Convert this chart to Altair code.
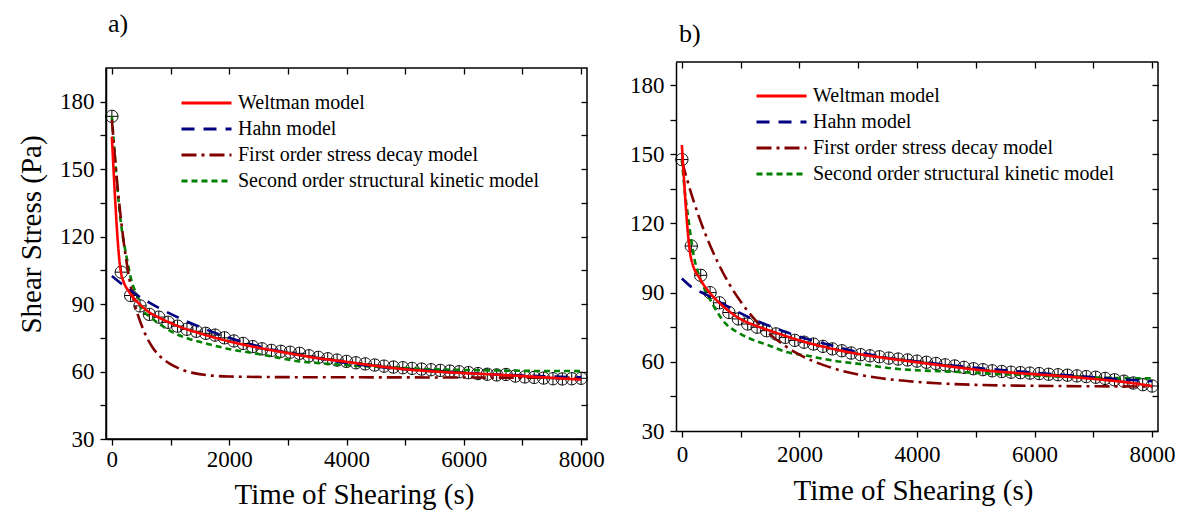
import altair as alt
import pandas as pd

FONT = "Liberation Serif"
MODELS = ["Weltman model", "Hahn model", "First order stress decay model",
          "Second order structural kinetic model"]
COLORS = ["#ff0000", "#000080", "#800000", "#008000"]
DASHES = [[1, 0], [13, 9], [15, 5, 3, 5], [6, 4]]

# experimental points (same time grid in both panels)
T_EXP = [0, 160, 320, 480, 640, 800, 960, 1120, 1280, 1440, 1600, 1760, 1920, 2080,
         2240, 2400, 2560, 2720, 2880, 3040, 3200, 3360, 3520, 3680, 3840, 4000, 4160,
         4320, 4480, 4640, 4800, 4960, 5120, 5280, 5440, 5600, 5760, 5920, 6080, 6240,
         6400, 6560, 6720, 6880, 7040, 7200, 7360, 7520, 7680, 7840, 8000]
A_EXP = [173.5, 104.2, 93.8, 89.2, 85.4, 84.2, 81.9, 80.2, 78.8, 77.9, 77.0, 76.2, 75.0,
         73.6, 72.5, 71.1, 70.1, 69.4, 69.0, 68.6, 68.1, 67.0, 66.3, 65.7, 65.1, 64.5,
         63.9, 63.4, 62.9, 62.4, 62.0, 61.7, 61.4, 61.1, 60.8, 60.5, 60.2, 59.9, 59.5,
         59.1, 58.8, 58.5, 58.7, 58.0, 57.6, 57.4, 57.1, 56.8, 56.7, 56.8, 57.0]
B_EXP = [147.7, 110.2, 97.5, 90.0, 85.6, 81.4, 78.6, 76.4, 75.0, 73.5, 72.1, 70.6, 69.3,
         68.5, 67.7, 66.7, 65.6, 64.8, 63.8, 63.1, 62.6, 62.2, 61.6, 61.2, 60.8, 60.3,
         59.8, 59.3, 58.7, 58.2, 57.6, 57.0, 56.6, 56.1, 55.8, 55.5, 55.3, 55.1, 54.9,
         54.6, 54.4, 54.2, 53.9, 53.6, 53.3, 52.8, 52.2, 51.6, 50.8, 50.1, 49.5]

# panel a model curves
WELT_A_T = [0, 160, 320, 480, 640, 800, 1000, 1200, 1500, 2000, 2500, 3000, 3500, 4000,
            4500, 5000, 5500, 6000, 6500, 7000, 7500, 8000]
WELT_A = [164.5, 103.5, 94.5, 89.8, 86.3, 84.0, 81.6, 79.5, 77.0, 73.4, 70.6, 68.2, 66.0,
          64.3, 62.5, 61.0, 60.0, 59.3, 58.7, 58.0, 57.2, 56.4]
HAHN_A_T = [0, 400, 800, 1200, 1600, 2000, 2400, 3000, 3500, 4000, 4500, 5000, 5500, 6000,
            6500, 7000, 7500, 8000]
HAHN_A = [102.5, 94.5, 88.3, 83.2, 78.8, 75.0, 71.9, 68.3, 66.0, 63.8, 62.2, 61.0, 60.1,
          59.4, 58.8, 58.3, 57.8, 57.4]
FO_A_T = [0, 100, 200, 300, 400, 500, 600, 700, 800, 1000, 1200, 1400, 1700, 2000, 3000,
          5000, 8000]
FO_A = [172.0, 141.5, 118.0, 101.0, 89.0, 81.0, 75.0, 70.5, 67.3, 63.3, 60.8, 59.3, 58.2,
        57.8, 57.5, 57.4, 57.2]
SO_A_T = [0, 150, 250, 350, 440, 510, 640, 740, 1050, 1320, 1560, 2045, 2400, 2784, 3068,
          3750, 4200, 4770, 5450, 6250, 7045, 8000]
SO_A = [173.5, 127.0, 111.0, 99.0, 93.5, 88.0, 84.5, 82.5, 77.3, 74.5, 72.8, 69.8, 68.2,
        66.4, 65.0, 63.3, 62.5, 61.8, 61.0, 60.6, 60.3, 60.2]

# panel b model curves
WELT_B_T = [0, 155, 320, 480, 640, 800, 1000, 1200, 1500, 2000, 2500, 3000, 3500, 4000,
            4500, 5000, 5500, 6000, 6500, 7000, 7500, 8000]
WELT_B = [154.0, 105.0, 95.5, 89.8, 85.5, 82.0, 78.5, 76.2, 73.5, 69.3, 66.0, 63.4, 61.5,
          59.8, 58.2, 56.6, 55.5, 54.6, 53.7, 52.6, 51.3, 49.5]
HAHN_B_T = [0, 165, 400, 600, 850, 1100, 1300, 1600, 2000, 2500, 2900, 3300, 3700, 4000,
            4500, 5000, 5500, 6000, 6500, 7000, 7500, 8000]
HAHN_B = [96.1, 92.4, 89.3, 86.6, 83.0, 79.8, 77.5, 74.5, 70.9, 67.4, 64.8, 62.6, 61.0,
          60.1, 58.7, 57.4, 56.3, 55.3, 54.3, 53.3, 52.4, 51.6]
FO_B_T = [0, 200, 400, 600, 800, 1000, 1250, 1500, 1750, 2000, 2500, 3000, 3500, 4000,
          5000, 6000, 7000, 8000]
FO_B = [147.0, 129.7, 115.4, 103.7, 94.0, 86.1, 78.1, 71.9, 67.0, 63.1, 57.8, 54.5, 52.5,
        51.3, 50.0, 49.6, 49.4, 49.3]
SO_B_T = [0, 50, 110, 190, 310, 440, 590, 750, 950, 1175, 1460, 1800, 2140, 2600, 3050,
          3560, 4700, 5830, 6970, 8000]
SO_B = [147.7, 133.9, 122.2, 107.7, 96.1, 89.0, 82.0, 76.4, 72.8, 69.9, 67.3, 64.1, 62.6,
        60.4, 59.0, 57.2, 55.6, 54.2, 53.2, 52.8]

X_DOMAIN = [-100, 8100]
X_TICKS = [0, 1000, 2000, 3000, 4000, 5000, 6000, 7000, 8000]
Y_TICKS = [30, 45, 60, 75, 90, 105, 120, 135, 150, 165, 180]

SHAPE = "M-1,0A1,1,0,1,1,1,0A1,1,0,1,1,-1,0ZM-1,0L1,0M0,-1L0,1"


def curves(spec):
    rows = []
    for model, ts, vs in spec:
        for t, v in zip(ts, vs):
            rows.append({"t": t, "v": v, "model": model})
    return pd.DataFrame(rows)


def panel(exp, spec, ydom, ytitle, title, w, h, legx, legy, xlab_pad, xtitle_pad,
          xtitle_x, lift=0):
    pts_df = pd.DataFrame({"t": T_EXP, "v": exp})
    line_df = curves(spec)
    xs = alt.Scale(domain=X_DOMAIN, nice=False, zero=False)
    if lift:
        ys = alt.Scale(domain=ydom, range=[h, -lift], nice=False, zero=False)
    else:
        ys = alt.Scale(domain=ydom, nice=False, zero=False)
    common = dict(domainColor="black", domainWidth=1.5, tickColor="black", tickWidth=1.3,
                  tickSize=6, labelFont=FONT, labelColor="black", labelFontSize=23,
                  titleFont=FONT, titleFontSize=29, titleFontWeight="normal",
                  titleColor="black", grid=False)
    xaxis = alt.Axis(values=X_TICKS, format="d",
                     labelExpr="datum.value % 2000 === 0 ? datum.label : ''",
                     labelPadding=xlab_pad, titlePadding=xtitle_pad, titleX=xtitle_x,
                     titleAlign="center", **common)
    yaxis = alt.Axis(values=Y_TICKS,
                     labelExpr="datum.value % 30 === 0 ? datum.label : ''",
                     labelPadding=6, titlePadding=13, titleY=166, **common)
    top_axis = alt.Axis(orient="top", values=X_TICKS, labels=False, domain=False,
                        tickColor="black", tickWidth=1.3, tickSize=6,
                        offset=(0 if lift else -6), grid=False, title=None)
    right_axis = alt.Axis(orient="right", values=Y_TICKS, labels=False, domain=False,
                          tickColor="black", tickWidth=1.3, tickSize=6, offset=-6,
                          grid=False, title=None)

    pts = alt.Chart(pts_df).mark_point(shape=SHAPE, size=150, filled=False, color="black",
                                       strokeWidth=1.0, opacity=1).encode(
        x=alt.X("t:Q", scale=xs, axis=xaxis, title="Time of Shearing (s)"),
        y=alt.Y("v:Q", scale=ys, axis=yaxis, title=ytitle),
    )
    frame = alt.Chart(pts_df).mark_point(opacity=0).encode(
        x=alt.X("t:Q", scale=xs, axis=top_axis),
        y=alt.Y("v:Q", scale=ys, axis=right_axis),
    )
    leg = alt.Legend(title=None, orient="none", legendX=legx, legendY=legy,
                     symbolType="stroke", symbolSize=2500, symbolStrokeWidth=3,
                     labelFont=FONT, labelFontSize=20, labelColor="black",
                     labelOffset=5, rowPadding=6, clipHeight=20, padding=0,
                     labelLimit=500)
    cscale = alt.Scale(domain=MODELS, range=COLORS)
    dscale = alt.Scale(domain=MODELS, range=DASHES)
    layers = [pts]
    for model in [MODELS[3], MODELS[2], MODELS[1], MODELS[0]]:
        layers.append(
            alt.Chart(line_df).transform_filter(alt.datum.model == model)
            .mark_line(strokeWidth=2.6, interpolate="monotone").encode(
                x=alt.X("t:Q", scale=xs, axis=None),
                y=alt.Y("v:Q", scale=ys, axis=None),
                color=alt.Color("model:N", scale=cscale, legend=leg),
                strokeDash=alt.StrokeDash("model:N", scale=dscale, legend=leg),
            )
        )
    layers.append(frame)
    props = dict(width=w, height=h, title=title)
    if lift:
        # frame lines at the domain edges (top and right); bottom/left come from axes
        frame_df = pd.DataFrame({"x": [X_DOMAIN[1], X_DOMAIN[0]],
                                 "x2": [X_DOMAIN[1], X_DOMAIN[1]],
                                 "y": [ydom[0], ydom[1]],
                                 "y2": [ydom[1], ydom[1]]})
        layers.append(
            alt.Chart(frame_df).mark_rule(color="black", strokeWidth=1.5).encode(
                x=alt.X("x:Q", scale=xs, axis=None), x2="x2",
                y=alt.Y("y:Q", scale=ys, axis=None), y2="y2")
        )
        props["view"] = alt.ViewBackground(stroke="transparent")
    return alt.layer(*layers).resolve_axis(x="independent", y="independent").properties(
        **props)


title_a = alt.TitleParams(text="a)", anchor="start", frame="group", font=FONT, fontSize=26,
                          fontWeight="normal", color="black", offset=30, dx=2)
title_b = alt.TitleParams(text=" ", anchor="start", frame="group", font=FONT, fontSize=3,
                          subtitle="b)", subtitleFont=FONT, subtitleFontSize=26,
                          subtitleColor="black", subtitlePadding=1, offset=14, dx=3)

pa = panel(A_EXP,
           [(MODELS[0], WELT_A_T, WELT_A), (MODELS[1], HAHN_A_T, HAHN_A),
            (MODELS[2], FO_A_T, FO_A), (MODELS[3], SO_A_T, SO_A)],
           [30, 195], "Shear Stress (Pa)", title_a, 481, 371, 74, 25, 3, 9, 248)
pb = panel(B_EXP,
           [(MODELS[0], WELT_B_T, WELT_B), (MODELS[1], HAHN_B_T, HAHN_B),
            (MODELS[2], FO_B_T, FO_B), (MODELS[3], SO_B_T, SO_B)],
           [30, 190], None, title_b, 482, 363, 79, 18, 6, 10, 237, lift=6)

chart = alt.concat(pa, pb, columns=2, spacing=23).resolve_scale(
    color="independent", strokeDash="independent"
).resolve_legend(color="independent", strokeDash="independent").properties(
    padding={"left": 8, "top": 2, "right": 0, "bottom": 0}, background="white"
).configure_view(stroke="black", strokeWidth=1.5)

chart.save("out.html", embed_options={"renderer": "svg", "actions": False})
